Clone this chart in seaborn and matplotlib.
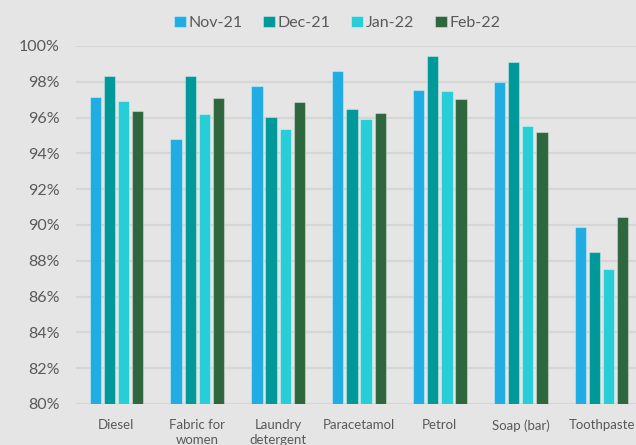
import matplotlib
matplotlib.use("Agg")
import matplotlib.pyplot as plt
import seaborn as sns
import pandas as pd
from matplotlib.ticker import FuncFormatter

categories = ["Diesel", "Fabric for\nwomen", "Laundry\ndetergent", "Paracetamol",
              "Petrol", "Soap (bar)", "Toothpaste"]
months = ["Nov-21", "Dec-21", "Jan-22", "Feb-22"]
nov21 = [97.13, 94.8, 97.74, 98.6, 97.55, 98.0, 89.91]
dec21 = [98.34, 98.34, 96.06, 96.46, 99.42, 99.08, 88.49]
jan22 = [96.95, 96.2, 95.37, 95.91, 97.51, 95.55, 87.55]
feb22 = [96.37, 97.12, 96.88, 96.23, 97.06, 95.2, 90.47]
colors = ["#1FADE4", "#00999A", "#27CED7", "#2E673E"]

rows = []
for m, vals in zip(months, [nov21, dec21, jan22, feb22]):
    for c, v in zip(categories, vals):
        rows.append({"category": c, "month": m, "value": v})
df = pd.DataFrame(rows)

sns.set_theme(style="white")
plt.rcParams["font.family"] = ["Lato", "DejaVu Sans"]
bg = "#E5E5E5"
fig = plt.figure(figsize=(6.36, 4.45), dpi=100, facecolor=bg)
ax = fig.add_axes([76/636, 1-404/445, 566/636, (404-46)/445])
ax.set_facecolor(bg)

sns.barplot(data=df, x="category", y="value", hue="month", order=categories,
            hue_order=months, palette=colors, width=0.7, gap=0.2,
            saturation=1, ax=ax, legend=True, zorder=3)
for p in ax.patches:
    p.set_edgecolor((1, 1, 1, 0.35))
    p.set_linewidth(0.8)

ax.set_ylim(80, 100)
ax.set_yticks(range(80, 101, 2))
ax.yaxis.set_major_formatter(FuncFormatter(lambda v, _: f"{int(v)}%"))
ax.grid(axis="y", color="#D6D6D6", linewidth=1.6, zorder=0)
ax.set_axisbelow(True)
for s in ax.spines.values():
    s.set_visible(False)
ax.set_xlabel("")
ax.set_ylabel("")
ax.tick_params(axis="both", length=0, colors="#595959")
ax.tick_params(axis="y", labelsize=11.5, pad=12)
ax.tick_params(axis="x", labelsize=9.5, pad=11)
for lbl in ax.get_xticklabels():
    lbl.set_linespacing(1.25)

leg = ax.legend(loc="center", bbox_to_anchor=((337 - 76) / 566, 1 + 23/358),
                ncol=4, frameon=False, fontsize=11.5, handlelength=0.75,
                handleheight=0.75, handletextpad=0.15, columnspacing=1.3,
                labelcolor="#595959", borderaxespad=0)
fig.savefig("out.png", dpi=100, facecolor=bg)
